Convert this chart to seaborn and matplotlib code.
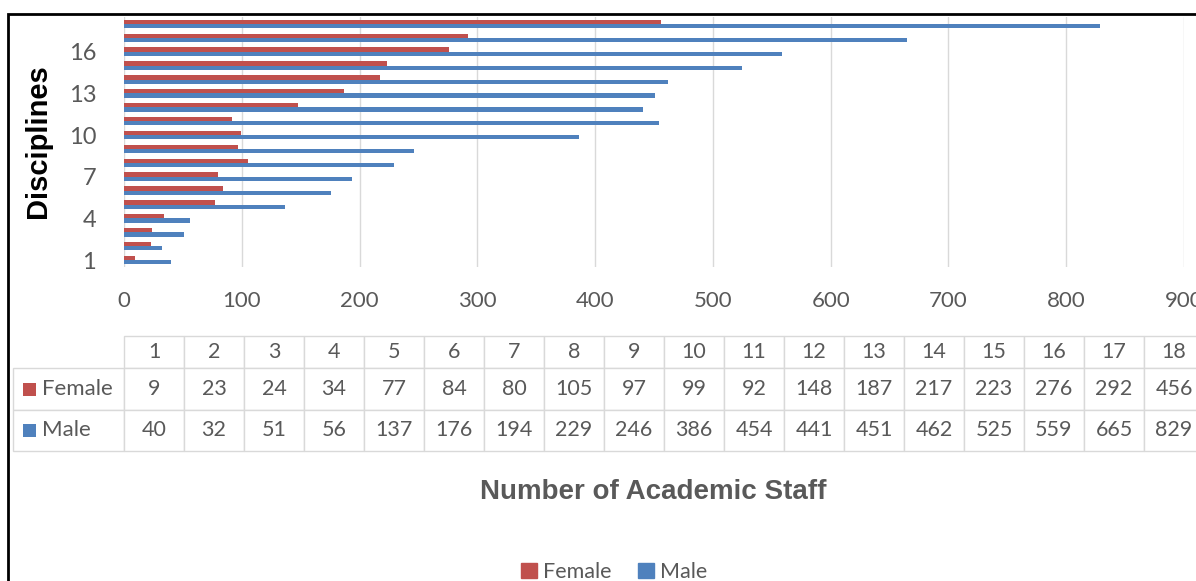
import numpy as np
import pandas as pd
import matplotlib
matplotlib.use("Agg")
import matplotlib.pyplot as plt
from matplotlib.patches import Patch, Rectangle
from matplotlib import font_manager
import seaborn as sns

disciplines = [str(i) for i in range(1, 19)]
female = [9, 23, 24, 34, 77, 84, 80, 105, 97, 99, 92, 148, 187, 217, 223, 276, 292, 456]
male = [40, 32, 51, 56, 137, 176, 194, 229, 246, 386, 454, 441, 451, 462, 525, 559, 665, 829]
shown_ticks = ["1", "4", "7", "10", "13", "16"]
x_ticks = list(range(0, 1000, 100))
genders = ["Female", "Male"]

colors = {"Female": "#C0504D", "Male": "#4F81BD"}
GRAY = "#595959"
LINE = "#D9D9D9"

sns.set_style("white")
installed = {f.name for f in font_manager.fontManager.ttflist}
plt.rcParams["font.family"] = ["Lato", "DejaVu Sans"]
narrow = "Liberation Sans Narrow" if "Liberation Sans Narrow" in installed else None
title_size = 23 if narrow else 20

df = pd.DataFrame({
    "Discipline": disciplines * 2,
    "Gender": ["Female"] * len(female) + ["Male"] * len(male),
    "Staff": female + male,
})

W, H = 1196, 581
fig = plt.figure(figsize=(W / 100, H / 100), dpi=100)

# bar chart
ax = fig.add_axes([124 / W, 1 - 267 / H, (1184 - 124) / W, (267 - 17) / H])
order = disciplines[::-1]
sns.barplot(data=df, x="Staff", y="Discipline", hue="Gender", order=order,
            hue_order=genders, palette=colors, orient="h", width=0.62,
            saturation=1, errorbar=None, legend=False, linewidth=0, ax=ax)
ax.set_xlim(0, 900)
ax.set_ylim(len(order) - 0.5, -0.5)
ax.set_xticks(x_ticks)
ax.set_yticks([order.index(d) for d in shown_ticks], shown_ticks)
ax.tick_params(axis="both", length=0, colors=GRAY)
ax.tick_params(axis="x", pad=17, labelsize=16)
ax.tick_params(axis="y", pad=20, labelsize=17)
ax.grid(axis="x", color=LINE, lw=1)
ax.grid(axis="y", visible=False)
ax.set_axisbelow(True)
sns.despine(ax=ax, left=True, bottom=True)
ax.set_xlabel("")
ax.set_ylabel("")

# data table under the chart (first column holds the series names)
tax = fig.add_axes([13 / W, 1 - 451 / H, (124 + 18 * 60 - 13) / W, (451 - 336) / H])
tax.axis("off")
cell_text = [["Female"] + [str(v) for v in female], ["Male"] + [str(v) for v in male]]
tbl = tax.table(cellText=cell_text, colLabels=[""] + disciplines,
                colWidths=[111] + [60] * len(disciplines),
                cellLoc="center", bbox=[0, 0, 1, 1])
tbl.auto_set_font_size(False)
tbl.set_fontsize(15.5)
for (r, c), cell in tbl.get_celld().items():
    cell.set_edgecolor(LINE)
    cell.set_linewidth(1)
    cell.get_text().set_color(GRAY)
    cell.set_height(32 if r == 0 else 41.5)
    if c == 0:
        cell._loc = "left"
        cell.get_text().set_horizontalalignment("left")
        cell.PAD = 0.26
        if r == 0:
            cell.visible_edges = ""
        else:
            cell.get_text().set_fontsize(16)

# colour keys in the row label cells
for g, yc in zip(genders, [389, 430]):
    fig.add_artist(Rectangle((23 / W, 1 - (yc + 6.5) / H), 13 / W, 13 / H,
                             transform=fig.transFigure, color=colors[g], lw=0))

fig.text(653 / W, 1 - 492 / H, "Number of Academic Staff", ha="center", va="center",
         fontsize=title_size, fontweight="bold", color=GRAY,
         family=[narrow or "Liberation Sans", "DejaVu Sans"])
fig.text(38 / W, 1 - 141 / H, "Disciplines", ha="center", va="center", rotation=90,
         fontsize=21, fontweight="bold", color="black", family=["Liberation Sans", "DejaVu Sans"])

handles = [Patch(color=colors[g], label=g) for g in genders]
fig.legend(handles=handles, loc="center", bbox_to_anchor=(614 / W, 1 - 572 / H), ncol=2,
           frameon=False, fontsize=15.5, handlelength=0.75, handleheight=0.75,
           handletextpad=0.3, columnspacing=1.2, labelcolor=GRAY)

# frame of the original chart area
fig.add_artist(Rectangle((8 / W, -0.1), 1.2, 1 - 14 / H + 0.1, transform=fig.transFigure,
                         fill=False, ec="black", lw=2, clip_on=False))

fig.savefig("out.png", dpi=100)
